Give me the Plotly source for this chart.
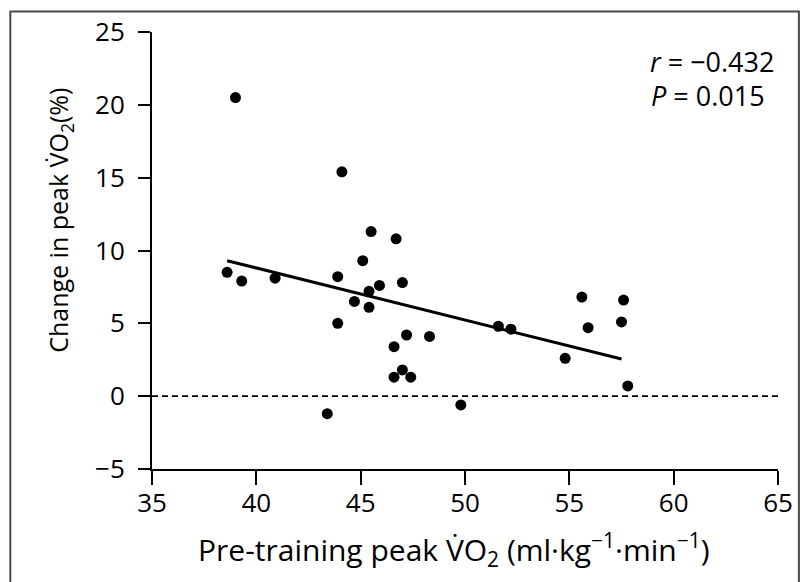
import plotly.graph_objects as go

# Pre-training peak VO2 (ml·kg-1·min-1)
pre_vo2 = [39.0, 38.6, 39.3, 40.9, 44.1, 43.9, 43.9, 45.1, 44.7, 45.4,
           45.9, 45.4, 45.5, 46.7, 47.0, 47.2, 48.3, 46.6, 47.0, 46.6,
           47.4, 43.4, 49.8, 51.6, 52.2, 54.8, 55.6, 55.9, 57.5, 57.6, 57.8]
# Change in peak VO2 (%)
change_vo2 = [20.5, 8.5, 7.9, 8.1, 15.4, 8.2, 5.0, 9.3, 6.5, 7.2,
              7.6, 6.1, 11.3, 10.8, 7.8, 4.2, 4.1, 3.4, 1.8, 1.3,
              1.3, -1.2, -0.6, 4.8, 4.6, 2.6, 6.8, 4.7, 5.1, 6.6, 0.7]
# Regression line end points
fit_x = [38.6, 57.5]
fit_y = [9.3, 2.55]

x_ticks = [35, 40, 45, 50, 55, 60, 65]
y_ticks = [-5, 0, 5, 10, 15, 20, 25]
y_tick_text = ["\u22125", "0", "5", "10", "15", "20", "25"]

x_title = "Pre-training peak V\u0307O<sub>2</sub> (ml\u00b7kg<sup>\u22121</sup>\u00b7min<sup>\u22121</sup>)"
y_title = "Change in peak V\u0307O<sub>2</sub>(%)"

FONT = "Open Sans, Noto Sans, sans-serif"
W_PLOT = 628.7
H_PLOT = 437.0
L0 = 152.3
B0 = 469.3


def px(xp):
    return (xp - L0) / W_PLOT


def py(yp):
    return (B0 - yp) / H_PLOT


fig = go.Figure()
fig.add_trace(go.Scatter(x=fit_x, y=fit_y, mode="lines",
                         line=dict(color="black", width=3), showlegend=False))
fig.add_trace(go.Scatter(x=pre_vo2, y=change_vo2, mode="markers",
                         marker=dict(color="black", size=11, line=dict(width=0)),
                         showlegend=False))

fig.add_shape(type="line", xref="x", yref="y", x0=35, x1=65, y0=0, y1=0,
              line=dict(color="black", width=1.6, dash="6px,4px"))

# outer frame
fig.add_shape(type="rect", xref="paper", yref="paper",
              x0=px(10), x1=px(802), y0=py(600), y1=py(11.7),
              line=dict(color="#4a4a4a", width=2))

fig.add_annotation(xref="paper", yref="paper", x=px(779), y=py(62),
                   xanchor="right", yanchor="middle", showarrow=False,
                   text="<i>r</i> = \u22120.432", align="left",
                   font=dict(size=27, color="black", family=FONT))
fig.add_annotation(xref="paper", yref="paper", x=px(651), y=py(96),
                   xanchor="left", yanchor="middle", showarrow=False,
                   text="<i>P</i> = 0.015", align="left",
                   font=dict(size=27, color="black", family=FONT))

# axis titles
fig.add_annotation(xref="paper", yref="paper", x=px(456), y=py(550),
                   xanchor="center", yanchor="middle", showarrow=False,
                   text=x_title, font=dict(size=30, color="black", family=FONT))
fig.add_annotation(xref="paper", yref="paper", x=px(60), y=py(221),
                   xanchor="center", yanchor="middle", showarrow=False,
                   textangle=-90,
                   text=y_title, font=dict(size=25, color="black", family=FONT))

fig.update_layout(
    width=805, height=582,
    margin=dict(l=L0, r=805 - L0 - W_PLOT, t=B0 - H_PLOT, b=582 - B0),
    paper_bgcolor="white", plot_bgcolor="white",
    font=dict(family=FONT, color="black", size=25),
    xaxis=dict(range=[35, 65], tickvals=x_ticks, ticks="outside", ticklen=14,
               tickwidth=2, tickcolor="black", showline=True, linecolor="black",
               linewidth=2, showgrid=False, zeroline=False,
               tickfont=dict(size=26), ticklabelstandoff=-4),
    yaxis=dict(range=[-5, 25], tickvals=y_ticks, ticktext=y_tick_text,
               ticks="outside", ticklen=12, tickwidth=2, tickcolor="black",
               showline=True, linecolor="black", linewidth=2, showgrid=False,
               zeroline=False, tickfont=dict(size=26), ticklabelstandoff=8),
)

fig.write_html("out.html")
